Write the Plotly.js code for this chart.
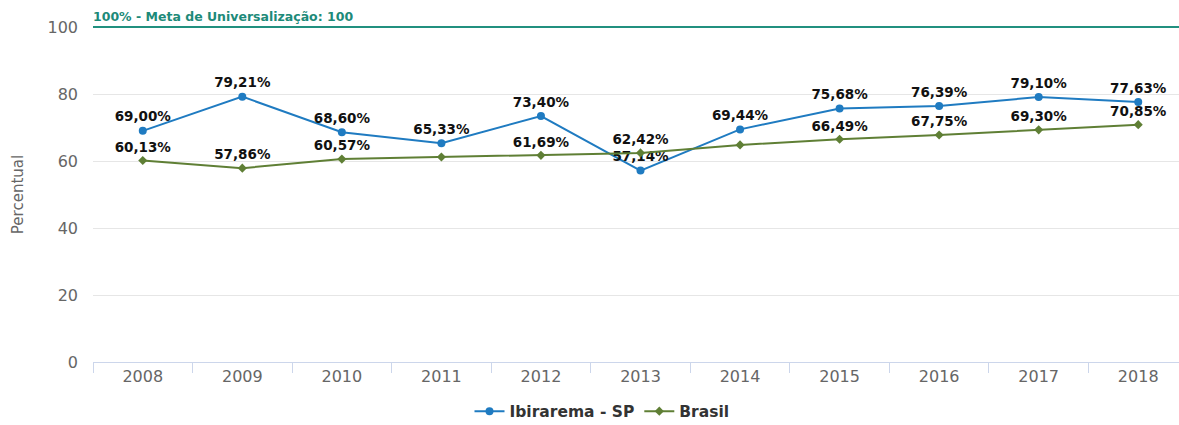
<!DOCTYPE html>
<html><head><meta charset="utf-8">
<script src="https://cdn.plot.ly/plotly-3.0.1.min.js"></script>
<style>html,body{margin:0;padding:0;overflow:hidden;background:#fff}#chart{width:1190px;height:425px}</style>
</head><body><div id="chart"></div>
<script>
const years = ['2008','2009','2010','2011','2012','2013','2014','2015','2016','2017','2018'];
const ibirarema = [69.00, 79.21, 68.60, 65.33, 73.40, 57.14, 69.44, 75.68, 76.39, 79.10, 77.63];
const brasil = [60.13, 57.86, 60.57, 61.2, 61.69, 62.42, 64.8, 66.49, 67.75, 69.30, 70.85];
const brasilShowLabel = [true, true, true, false, true, true, false, true, true, true, true];
const goalValue = 100;
const goalLabel = '100% - Meta de Universalização: 100';
const yMax = 100;

const fmt = v => v.toFixed(2).replace('.', ',') + '%';
const FONT = 'DejaVu Sans, sans-serif';

const traces = [
  {
    x: years, y: ibirarema, name: 'Ibirarema - SP', type: 'scatter', mode: 'lines+markers+text',
    line: {color: '#1f7bc1', width: 2},
    marker: {color: '#1f7bc1', size: 8, symbol: 'circle'},
    text: ibirarema.map(fmt), textposition: 'top center',
    textfont: {family: FONT, size: 13.5, color: '#111', weight: 'bold'},
    cliponaxis: false
  },
  {
    x: years, y: brasil, name: 'Brasil', type: 'scatter', mode: 'lines+markers+text',
    line: {color: '#5f7f35', width: 2},
    marker: {color: '#5f7f35', size: 7, symbol: 'diamond'},
    text: brasil.map((v, i) => brasilShowLabel[i] ? fmt(v) : ''), textposition: 'top center',
    textfont: {family: FONT, size: 13.5, color: '#111', weight: 'bold'},
    cliponaxis: false
  }
];

const layout = {
  width: 1190, height: 425,
  margin: {l: 93, r: 2, t: 27, b: 63, autoexpand: false},
  paper_bgcolor: '#fff', plot_bgcolor: '#fff',
  font: {family: FONT, color: '#666'},
  showlegend: true,
  legend: {orientation: 'h', x: (602 - 93) / 1095, xanchor: 'center',
    y: -0.148, yanchor: 'middle',
    font: {family: FONT, size: 15.5, color: '#333', weight: 'bold'}, itemwidth: 30},
  xaxis: {
    type: 'category', range: [-0.5, 10.5], tickson: 'boundaries', automargin: false,
    ticks: 'outside', ticklen: 10, tickcolor: '#ccd6eb', tickwidth: 1,
    showline: true, linecolor: '#ccd6eb', linewidth: 1,
    showgrid: false, zeroline: false,
    tickfont: {family: FONT, size: 16, color: '#666'}
  },
  yaxis: {
    range: [0, yMax], tickvals: [0, 20, 40, 60, 80, 100], automargin: false,
    showgrid: true, gridcolor: '#e6e6e6', gridwidth: 1, zeroline: false,
    ticks: '', ticklabelstandoff: 14,
    tickfont: {family: FONT, size: 16, color: '#666'},
    title: {text: 'Percentual', font: {family: FONT, size: 15, color: '#666'}, standoff: 20}
  },
  shapes: [{type: 'line', xref: 'paper', x0: 0, x1: 1, yref: 'paper', y0: goalValue / yMax, y1: goalValue / yMax,
    layer: 'above', line: {color: '#21907f', width: 2}}],
  annotations: [{xref: 'paper', x: 0.0, xanchor: 'left', yref: 'y', y: goalValue, yanchor: 'bottom',
    yshift: 1, xshift: -2, text: goalLabel, showarrow: false,
    font: {family: FONT, size: 12.5, color: '#1d8a79', weight: 'bold'}}]
};

Plotly.newPlot('chart', traces, layout, {displayModeBar: false, staticPlot: true});
</script></body></html>
